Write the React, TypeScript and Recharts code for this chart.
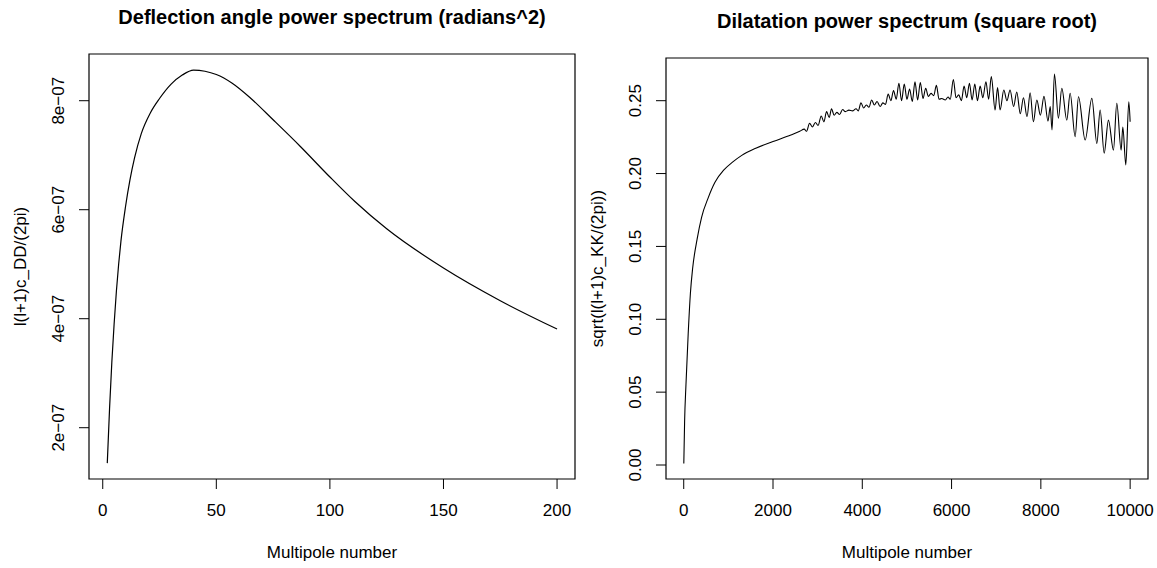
import React from 'react';
import { LineChart, Line, XAxis, YAxis, ReferenceArea } from 'recharts';

const FONT = '"Liberation Sans", Arial, Helvetica, sans-serif';

// left panel: deflection angle power spectrum l(l+1)c_DD/(2pi)
const ddMultipoles = [2, 3, 4, 5, 6, 7, 8, 10, 12, 14, 17, 21, 25, 30, 35, 40, 45, 50, 57, 65, 75, 87, 100, 111, 125, 150, 175, 200];
const ddValues = [
  1.35e-7, 2.35e-7, 3.2e-7, 3.9e-7, 4.5e-7, 5.0e-7, 5.42e-7, 6.05e-7, 6.55e-7, 6.95e-7, 7.4e-7, 7.78e-7, 8.04e-7,
  8.3e-7, 8.47e-7, 8.56e-7, 8.54e-7, 8.48e-7, 8.32e-7, 8.05e-7, 7.65e-7, 7.16e-7, 6.6e-7, 6.15e-7, 5.65e-7,
  4.93e-7, 4.33e-7, 3.81e-7,
];
const ddXTicks = [0, 50, 100, 150, 200];
const ddYTicks = [2e-7, 4e-7, 6e-7, 8e-7];

// right panel: dilatation power spectrum, square root
const kkSmoothMultipoles = [2, 20, 50, 100, 150, 200, 300, 400, 550, 700, 900, 1100, 1300, 1600, 2000, 2400, 2600];
const kkSmoothValues = [
  0.001, 0.03, 0.055, 0.09, 0.118, 0.135, 0.155, 0.17, 0.1835, 0.194, 0.2025, 0.208, 0.2125, 0.2172, 0.222,
  0.2265, 0.229,
];
const kkWiggleMultipoles = [
  2700, 2750, 2820, 2880, 2950, 3010, 3080, 3140, 3200, 3260,
  3310, 3370, 3430, 3490, 3560, 3620, 3700, 3780, 3860, 3910,
  3970, 4030, 4090, 4150, 4210, 4270, 4330, 4400, 4460, 4520,
  4580, 4640, 4700, 4760, 4820, 4880, 4940, 5000, 5060, 5120,
  5180, 5240, 5300, 5360, 5420, 5480, 5540, 5600, 5660, 5720,
  5780, 5860, 5920, 5970, 6040, 6100, 6160, 6220, 6280, 6340,
  6400, 6460, 6520, 6580, 6640, 6700, 6770, 6830, 6890, 6975,
  7030, 7087, 7170, 7240, 7310, 7390, 7460, 7540, 7610, 7690,
  7760, 7833, 7910, 7990, 8070, 8160, 8210, 8250, 8304, 8394,
  8469, 8581, 8656, 8768, 8843, 8992, 9142, 9254, 9328, 9418,
  9514, 9626, 9701, 9798, 9836, 9903, 9970, 10000,
];
const kkWiggleValues = [
  0.2305, 0.229, 0.2345, 0.232, 0.235, 0.233, 0.2395, 0.2355, 0.2425, 0.2385,
  0.2445, 0.24, 0.242, 0.2405, 0.244, 0.2425, 0.2435, 0.243, 0.2445, 0.243,
  0.2485, 0.245, 0.247, 0.2455, 0.2505, 0.247, 0.2495, 0.246, 0.2485, 0.2475,
  0.2545, 0.25, 0.257, 0.251, 0.262, 0.25, 0.2615, 0.251, 0.258, 0.2495,
  0.263, 0.2505, 0.2625, 0.2515, 0.2585, 0.253, 0.255, 0.2535, 0.2605, 0.251,
  0.2515, 0.2505, 0.2525, 0.251, 0.2645, 0.252, 0.254, 0.25, 0.26, 0.252,
  0.262, 0.2505, 0.2615, 0.25, 0.26, 0.252, 0.263, 0.251, 0.2665, 0.2436,
  0.259, 0.2436, 0.2573, 0.25, 0.2573, 0.246, 0.256, 0.241, 0.252, 0.239,
  0.2555, 0.2356, 0.2505, 0.24, 0.253, 0.236, 0.246, 0.23, 0.2683, 0.238,
  0.2585, 0.2367, 0.2551, 0.2253, 0.2527, 0.223, 0.2516, 0.2207, 0.2436, 0.214,
  0.2367, 0.2161, 0.2482, 0.216, 0.232, 0.2059, 0.2493, 0.2356,
];
const kkXTicks = [0, 2000, 4000, 6000, 8000, 10000];
const kkYTicks = [0, 0.05, 0.1, 0.15, 0.2, 0.25];

const ddData = ddMultipoles.map((l, i) => ({ l, v: ddValues[i] }));
const kkMultipoles = [...kkSmoothMultipoles, ...kkWiggleMultipoles];
const kkValues = [...kkSmoothValues, ...kkWiggleValues];
const kkData = kkMultipoles.map((l, i) => ({ l, v: kkValues[i] }));

const ddXDomain: [number, number] = [-6.05, 207.9];
const ddYDomain: [number, number] = [1.059e-7, 8.857e-7];
const kkXDomain: [number, number] = [-397, 10400];
const kkYDomain: [number, number] = [-0.0096, 0.2793];

const PLOT_BOTTOM = 479;

const makeXTick = () => (props: any) => {
  const { x, payload } = props;
  return (
    <text x={x} y={PLOT_BOTTOM + 31} textAnchor="middle" dominantBaseline="central" fontSize={17} fontFamily={FONT} fill="#000">
      {String(payload.value)}
    </text>
  );
};

const makeYTick = (labelX: number, fmt: (v: number) => string) => (props: any) => {
  const { y, payload } = props;
  return (
    <text
      x={labelX}
      y={y}
      textAnchor="middle"
      dominantBaseline="central"
      fontSize={17}
      fontFamily={FONT}
      fill="#000"
      transform={`rotate(-90 ${labelX} ${y})`}
    >
      {fmt(payload.value)}
    </text>
  );
};

const fmtDD = (v: number) => `${Math.round(v * 1e7)}e\u221207`;
const fmtKK = (v: number) => v.toFixed(2);

export default function App() {
  return (
    <div style={{ position: 'absolute', left: 0, top: 0, width: 1157, height: 568, background: '#fff' }}>
      <div style={{ position: 'absolute', left: 0, top: 0 }}>
        <LineChart width={580} height={568} data={ddData} margin={{ top: 54, right: 5, bottom: 0, left: 0 }}>
          <XAxis
            dataKey="l"
            type="number"
            domain={ddXDomain}
            allowDataOverflow
            ticks={ddXTicks}
            interval={0}
            height={89}
            axisLine={false}
            tickSize={10}
            tickLine={{ stroke: '#000', strokeWidth: 1 }}
            tick={makeXTick()}
          />
          <YAxis
            type="number"
            domain={ddYDomain}
            allowDataOverflow
            ticks={ddYTicks}
            interval={0}
            width={89}
            axisLine={false}
            tickSize={10}
            tickLine={{ stroke: '#000', strokeWidth: 1 }}
            tick={makeYTick(58.5, fmtDD)}
          />
          <ReferenceArea
            x1={ddXDomain[0]}
            x2={ddXDomain[1]}
            y1={ddYDomain[0]}
            y2={ddYDomain[1]}
            fill="none"
            fillOpacity={0}
            stroke="#000"
            strokeWidth={1.2}
            ifOverflow="visible"
          />
          <Line type="monotone" dataKey="v" stroke="#000" strokeWidth={1.2} dot={false} isAnimationActive={false} />
        </LineChart>
      </div>
      <div style={{ position: 'absolute', left: 580, top: 0 }}>
        <LineChart width={577} height={568} data={kkData} margin={{ top: 58, right: 9, bottom: 0, left: 0 }}>
          <XAxis
            dataKey="l"
            type="number"
            domain={kkXDomain}
            allowDataOverflow
            ticks={kkXTicks}
            interval={0}
            height={89}
            axisLine={false}
            tickSize={10}
            tickLine={{ stroke: '#000', strokeWidth: 1 }}
            tick={makeXTick()}
          />
          <YAxis
            type="number"
            domain={kkYDomain}
            allowDataOverflow
            ticks={kkYTicks}
            interval={0}
            width={86}
            axisLine={false}
            tickSize={10}
            tickLine={{ stroke: '#000', strokeWidth: 1 }}
            tick={makeYTick(56, fmtKK)}
          />
          <ReferenceArea
            x1={kkXDomain[0]}
            x2={kkXDomain[1]}
            y1={kkYDomain[0]}
            y2={kkYDomain[1]}
            fill="none"
            fillOpacity={0}
            stroke="#000"
            strokeWidth={1.2}
            ifOverflow="visible"
          />
          <Line type="monotone" dataKey="v" stroke="#000" strokeWidth={1.1} dot={false} isAnimationActive={false} />
        </LineChart>
      </div>
      <svg width={1157} height={568} style={{ position: 'absolute', left: 0, top: 0, pointerEvents: 'none' }}>
        <g fontFamily={FONT} fill="#000">
          <text x={332} y={17} textAnchor="middle" dominantBaseline="central" fontSize={20} fontWeight="bold">
            Deflection angle power spectrum (radians^2)
          </text>
          <text x={907} y={21} textAnchor="middle" dominantBaseline="central" fontSize={20} fontWeight="bold">
            Dilatation power spectrum (square root)
          </text>
          <text x={332} y={552} textAnchor="middle" dominantBaseline="central" fontSize={17}>
            Multipole number
          </text>
          <text x={907} y={552} textAnchor="middle" dominantBaseline="central" fontSize={17}>
            Multipole number
          </text>
          <text x={20} y={266.5} textAnchor="middle" dominantBaseline="central" fontSize={17} transform="rotate(-90 20 266.5)">
            l(l+1)c_DD/(2pi)
          </text>
          <text x={597} y={268.5} textAnchor="middle" dominantBaseline="central" fontSize={17} transform="rotate(-90 597 268.5)">
            sqrt(l(l+1)c_KK/(2pi))
          </text>
        </g>
      </svg>
    </div>
  );
}
